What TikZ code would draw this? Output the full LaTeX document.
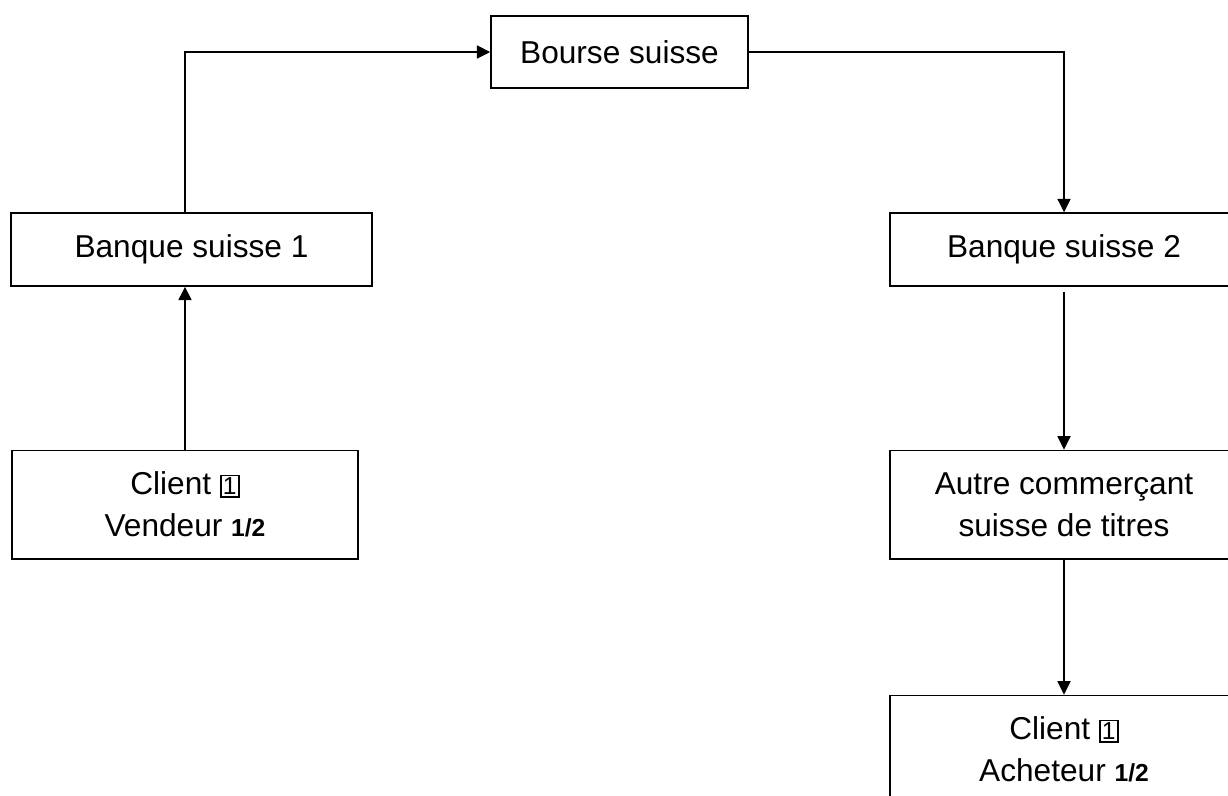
\documentclass[tikz,border=0pt]{standalone}
\usepackage{fontspec}
\setmainfont{Liberation Sans}
\usepackage{tikz}
\usetikzlibrary{arrows.meta, positioning}
\newcommand{\boxun}{{\setlength{\fboxsep}{0.8pt}\setlength{\fboxrule}{0.9pt}\fbox{\fontsize{14}{14}\selectfont 1}}}
\newcommand{\demi}{{\fontsize{14}{14}\selectfont\bfseries 1/2}}
\tikzset{
  boite/.style={rectangle, draw=black, line width=.8pt,
    minimum width=7.22cm, minimum height=1.46cm,
    align=center, font=\fontsize{18}{24}\selectfont},
  boitehaute/.style={boite, minimum height=2.17cm},
  arr/.style={-{Triangle[length=2.7mm, width=2.6mm]}, draw=black, line width=1pt},
}

\begin{document}
\begin{tikzpicture}
    \clip (0,0) rectangle (24.56,-15.9);

    \node[boite, minimum width=5.14cm, minimum height=1.44cm] (bourse) at (12.39,-1.04) {Bourse suisse};
    \node[boite] (banqueun) at (3.83,-4.99) {Banque suisse 1};
    \node[boite, minimum width=6.96cm] (banquedeux) at (21.28,-4.99) {Banque suisse 2};
    \node[boitehaute, minimum width=6.92cm] (vendeur) [below=3.26cm of banqueun, xshift=-0.13cm] {Client \boxun\\Vendeur \demi};
    \node[boitehaute, minimum width=6.96cm] (autre) [below=3.26cm of banquedeux] {Autre commerçant\\suisse de titres};
    \node[boitehaute, minimum width=6.96cm] (acheteur) [below=2.7cm of autre] {Client \boxun\\Acheteur \demi};

    \draw[arr] (vendeur.north) -- (vendeur.north |- banqueun.south);
    \draw[arr] (vendeur.north |- banqueun.north) |- (bourse.west);
    \draw[arr] (bourse.east) -| (banquedeux.north);
    \draw[arr, shorten <=1mm] (banquedeux.south) -- (autre.north);
    \draw[arr] (autre.south) -- (acheteur.north);
  \end{tikzpicture}
\end{document}
